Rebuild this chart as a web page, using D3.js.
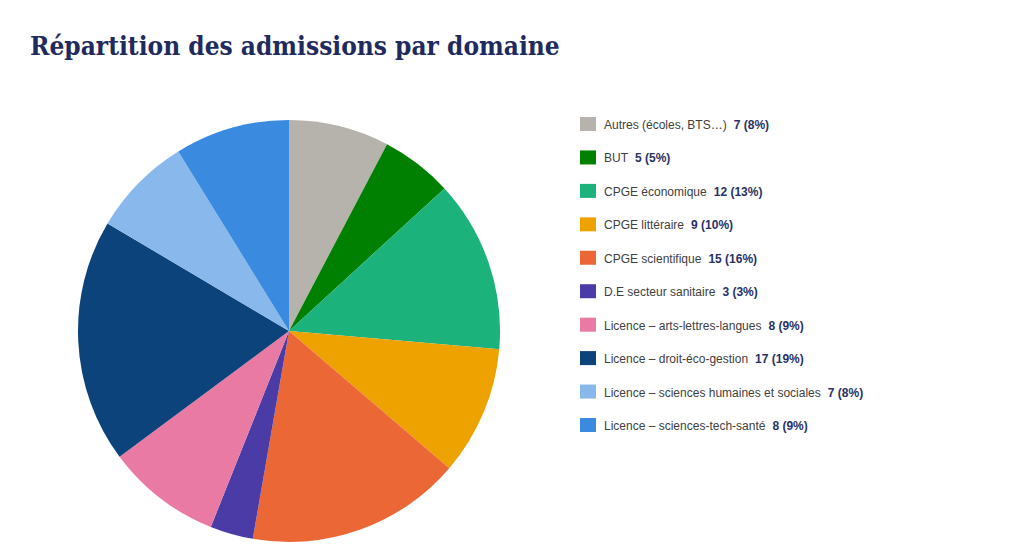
<!DOCTYPE html>
<html lang="fr"><head>
<meta charset="utf-8">
<title>Répartition des admissions par domaine</title>
<script src="https://cdn.jsdelivr.net/npm/d3@7/dist/d3.min.js"></script>
<style>
  body { margin: 0; background: #fff; }
</style>
</head>
<body>
<script type="text/javascript">

var width = 1024;
var height = 550;

var domaines = [
    "Autres (écoles, BTS…)",
    "BUT",
    "CPGE économique",
    "CPGE littéraire",
    "CPGE scientifique",
    "D.E secteur sanitaire",
    "Licence – arts-lettres-langues",
    "Licence – droit-éco-gestion",
    "Licence – sciences humaines et sociales",
    "Licence – sciences-tech-santé"
];
var admissions = [7, 5, 12, 9, 15, 3, 8, 17, 7, 8];
var couleurs = ["#b5b3ab", "#008000", "#1bb27b", "#eda200", "#eb6836",
                "#4a3ba6", "#e87aa4", "#0c437b", "#88b8ec", "#3a8be0"];

var total = d3.sum(admissions);
var data = domaines.map(function(d, i) {
    return {nom: d, val: admissions[i], col: couleurs[i]};
});

var svg = d3.select("body").append("svg")
    .attr("width", width)
    .attr("height", height);

svg.append("text")
    .attr("x", 30)
    .attr("y", 55)
    .attr("font-family", "DejaVu Serif, serif")
    .attr("font-stretch", "condensed")
    .attr("font-weight", "bold")
    .attr("font-size", 26)
    .attr("fill", "#1f2a5e")
    .text("Répartition des admissions par domaine");

// camembert
var pie = d3.pie().sort(null).value(function(d) { return d.val; });
var arc = d3.arc().innerRadius(0).outerRadius(211);

svg.append("g")
    .attr("transform", "translate(289,331)")
    .selectAll("path")
    .data(pie(data))
    .enter()
    .append("path")
    .attr("d", arc)
    .attr("fill", function(d) { return d.data.col; });

// légende
var y = d3.scalePoint().domain(domaines).range([124, 425]);

var leg = svg.append("g")
    .selectAll("g")
    .data(data)
    .enter()
    .append("g")
    .attr("transform", function(d) { return "translate(580," + y(d.nom) + ")"; });

leg.append("rect")
    .attr("x", 0)
    .attr("y", -7)
    .attr("width", 16)
    .attr("height", 14)
    .attr("fill", function(d) { return d.col; });

var lbl = leg.append("text")
    .attr("x", 24)
    .attr("y", 5)
    .attr("font-family", "Liberation Sans, Arial, sans-serif")
    .attr("font-size", 12);

lbl.append("tspan")
    .attr("fill", "#404040")
    .text(function(d) { return d.nom; });

lbl.append("tspan")
    .attr("fill", "#283266")
    .attr("font-weight", "bold")
    .attr("dx", 7)
    .text(function(d) { return d.val + " (" + Math.round(d.val / total * 100) + "%)"; });

</script>
</body>
</html>
